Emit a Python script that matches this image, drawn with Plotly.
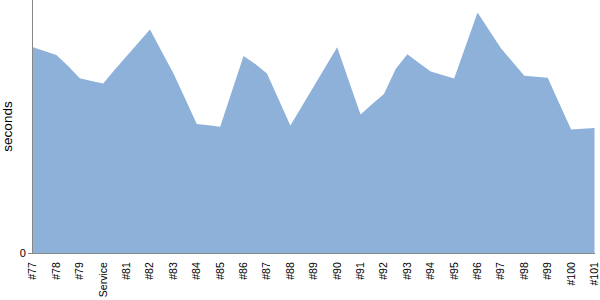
import plotly.graph_objects as go

labels = ["#77", "#78", "#79", "Service", "#81", "#82", "#83", "#84", "#85", "#86",
          "#87", "#88", "#89", "#90", "#91", "#92", "#93", "#94", "#95", "#96",
          "#97", "#98", "#99", "#100", "#101"]

# samples taken every half build step
seconds = [20.57, 20.2, 19.8, 18.7, 17.47, 17.2, 16.95, 18.35, 19.7, 21.05,
           22.35, 20.15, 17.97, 15.45, 12.9, 12.77, 12.63, 16.17, 19.7, 18.9,
           17.95, 15.35, 12.75, 14.7, 16.65, 18.6, 20.57, 17.2, 13.85, 14.9,
           15.9, 18.4, 19.88, 19.0, 18.15, 17.8, 17.45, 20.75, 24.05, 22.25,
           20.47, 19.1, 17.72, 17.62, 17.52, 14.93, 12.35, 12.43, 12.51]

x = [i / 2 for i in range(len(seconds))]

fig = go.Figure()
fig.add_trace(go.Scatter(
    x=x, y=seconds, mode="lines", fill="tozeroy",
    line=dict(color="#8eb1da", width=0),
    fillcolor="#8eb1da", hoverinfo="skip", showlegend=False,
))

font_family = "Liberation Sans, Arial, sans-serif"
fig.update_layout(
    width=600, height=300,
    margin=dict(l=33, r=5, t=0, b=47),
    paper_bgcolor="white", plot_bgcolor="white",
    font=dict(family=font_family, color="black", size=10.5),
    xaxis=dict(
        range=[0, 24.02], tickmode="array",
        tickvals=list(range(len(labels))), ticktext=labels,
        tickangle=-90, showgrid=False, zeroline=False,
        showline=True, linecolor="#888888", linewidth=1,
        ticks="", tickfont=dict(size=10.5), ticklabelstandoff=4,
        automargin=False,
    ),
    yaxis=dict(
        range=[0, 25.3], tickmode="array", tickvals=[0], ticktext=["0"],
        showgrid=False, zeroline=False, showline=True,
        linecolor="#888888", linewidth=1, ticks="outside",
        ticklen=4, tickcolor="#888888",
        title=dict(text="seconds", font=dict(size=13.5), standoff=6),
        tickfont=dict(size=11), automargin=False,
    ),
)

fig.write_html("out.html")
